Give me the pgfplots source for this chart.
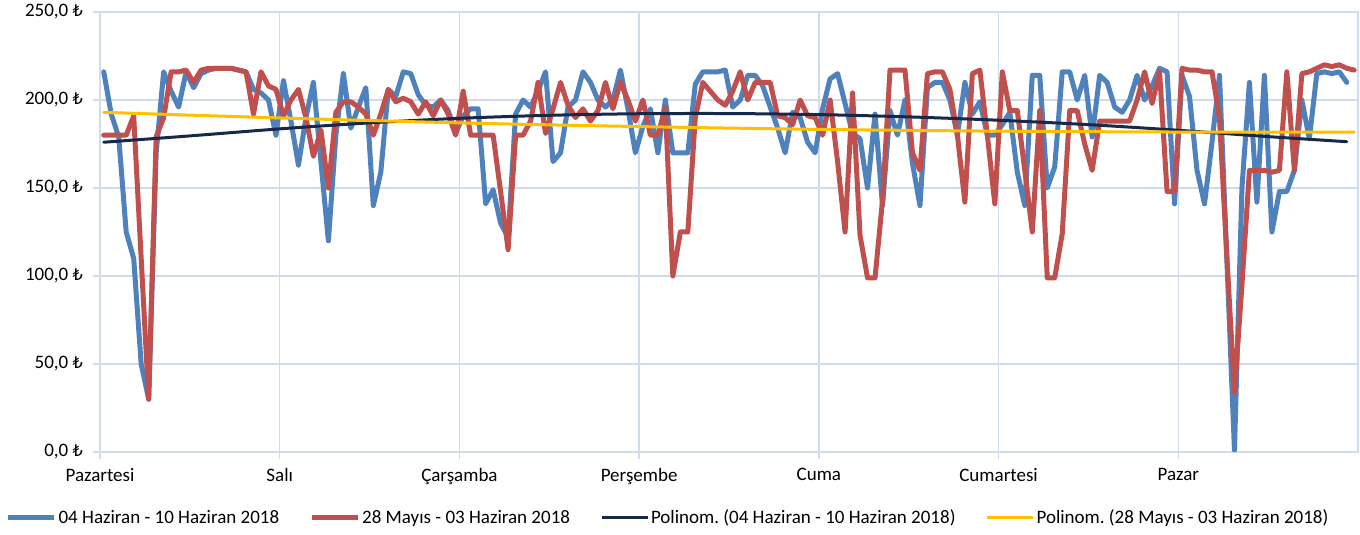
\documentclass[border=0pt]{standalone}
\usepackage{fontspec}
\setmainfont{Carlito}
\newfontfamily\tlfont{DejaVu Sans}[Scale=0.85]
\usepackage{pgfplots}
\usepackage{pgfplotstable}
\pgfplotsset{compat=1.18}

\definecolor{sBlue}{HTML}{4F81BD}
\definecolor{sRed}{HTML}{C0504D}
\definecolor{sNavy}{HTML}{16294A}
\definecolor{sYellow}{HTML}{FFC000}
\definecolor{gridc}{HTML}{D0DCEE}
\newcommand{\TL}{{\tlfont ₺}}

% hourly values, index 0 = Monday 00:00
\pgfplotstableread{
i v
0 216
1 192
2 179
3 125
4 110
5 50
6 30
7 170
8 216
9 205
10 196
11 216
12 207
13 215
14 217
15 218
16 218
17 218
18 217
19 216
20 206
21 204
22 200
23 180
24 211
25 188
26 163
27 190
28 210
29 165
30 120
31 180
32 215
33 184
34 196
35 207
36 140
37 159
38 206
39 202
40 216
41 215
42 203
43 197
44 196
45 200
46 194
47 181
48 191
49 195
50 195
51 141
52 149
53 130
54 122
55 192
56 200
57 196
58 205
59 216
60 165
61 170
62 196
63 200
64 216
65 210
66 200
67 196
68 200
69 217
70 195
71 170
72 185
73 195
74 170
75 200
76 170
77 170
78 170
79 209
80 216
81 216
82 216
83 217
84 196
85 200
86 214
87 214
88 208
89 196
90 184
91 170
92 193
93 190
94 176
95 170
96 195
97 212
98 215
99 198
100 181
101 178
102 150
103 192
104 140
105 194
106 180
107 200
108 164
109 140
110 207
111 210
112 210
113 200
114 180
115 210
116 192
117 199
118 180
119 180
120 186
121 193
122 159
123 140
124 214
125 214
126 150
127 162
128 216
129 216
130 200
131 214
132 179
133 214
134 210
135 196
136 193
137 200
138 214
139 200
140 208
141 218
142 216
143 141
144 214
145 202
146 160
147 141
148 176
149 214
150 108
151 1
152 150
153 210
154 142
155 214
156 125
157 148
158 148
159 160
160 200
161 178
162 215
163 216
164 215
165 216
166 210
}\thisweek

\pgfplotstableread{
i v
0 180
1 180
2 180
3 180
4 191
5 110
6 30
7 179
8 190
9 216
10 216
11 217
12 210
13 217
14 218
15 218
16 218
17 218
18 217
19 216
20 192
21 216
22 208
23 206
24 191
25 200
26 206
27 190
28 168
29 183
30 150
31 193
32 199
33 199
34 196
35 192
36 180
37 192
38 206
39 199
40 201
41 199
42 192
43 199
44 191
45 200
46 192
47 180
48 205
49 180
50 180
51 180
52 180
53 148
54 115
55 180
56 180
57 188
58 210
59 181
60 195
61 210
62 197
63 190
64 195
65 188
66 194
67 210
68 195
69 210
70 200
71 188
72 200
73 180
74 180
75 196
76 100
77 125
78 125
79 190
80 210
81 205
82 200
83 197
84 205
85 216
86 200
87 210
88 210
89 210
90 191
91 190
92 186
93 200
94 191
95 190
96 180
97 200
98 165
99 125
100 204
101 123
102 99
103 99
104 143
105 217
106 217
107 217
108 170
109 160
110 215
111 216
112 216
113 206
114 180
115 142
116 215
117 217
118 180
119 141
120 216
121 194
122 194
123 160
124 125
125 194
126 99
127 99
128 124
129 194
130 194
131 175
132 160
133 188
134 188
135 188
136 188
137 188
138 200
139 216
140 198
141 216
142 148
143 148
144 218
145 217
146 217
147 216
148 216
149 190
150 110
151 34
152 95
153 160
154 160
155 160
156 159
157 160
158 216
159 160
160 215
161 216
162 218
163 220
164 219
165 220
166 218
167 217
}\lastweek

\begin{document}
\frenchspacing
\fontsize{9.5pt}{11.4pt}\selectfont
\begin{tikzpicture}
\begin{axis}[
  width=629pt, height=220pt, scale only axis,
  xmin=0, xmax=168, ymin=0, ymax=250,
  xtick={0,24,...,144},
  xticklabels={Pazartesi,Salı,Çarşamba,Perşembe,Cuma,Cumartesi,Pazar},
  ytick={0,50,...,250},
  yticklabels={{0,0 \TL},{50,0 \TL},{100,0 \TL},{150,0 \TL},{200,0 \TL},{250,0 \TL}},
  grid=major, grid style={gridc, line width=0.75pt},
  axis line style={gridc, line width=0.75pt},
  tick style={gridc, line width=0.75pt},
  tick align=outside, xtick pos=bottom, ytick pos=left,
  major tick length=3.2pt,
  xticklabel style={yshift=-1.5pt},
  yticklabel style={xshift=-2pt},
  legend style={at={(axis description cs:0.4515,-0.15)}, anchor=center,
    draw=none, fill=none, legend columns=4,
    /tikz/every even column/.append style={column sep=14pt},
    nodes={inner sep=1pt}},
  legend image code/.code={\draw[#1] (0pt,0pt) -- (23pt,0pt);},
  line join=round, line cap=round,
]
\addplot[sBlue, line width=2.5pt] table[x expr=\thisrow{i}+0.5, y=v] {\thisweek};
\addlegendentry{04 Haziran - 10 Haziran 2018}
\addplot[sRed, line width=2.5pt] table[x expr=\thisrow{i}+0.5, y=v] {\lastweek};
\addlegendentry{28 Mayıs - 03 Haziran 2018}
% trend lines as drawn by the spreadsheet, read off at a few points
\addplot[sNavy, line width=1.5pt, smooth] coordinates {(0.5,176) (12,179.6) (24,183.6) (36,187) (48,189.6) (60,191.3) (72,192.2) (84,192.3) (96,191.7) (108,190.4) (120,188.5) (132,186) (144,182.8) (156,179.2) (166.5,176.3)};
\addlegendentry{Polinom. (04 Haziran - 10 Haziran 2018)}
\addplot[sYellow, line width=1.5pt, smooth] coordinates {(0.5,193) (24,189.8) (48,187) (72,184.9) (96,183.3) (120,182.3) (144,181.8) (167.5,181.7)};
\addlegendentry{Polinom. (28 Mayıs - 03 Haziran 2018)}
\coordinate (ll) at (rel axis cs:0,0);
\coordinate (ur) at (rel axis cs:1,1);
\end{axis}
% fix the page to the chart area of the original: 50pt left of the plot,
% 41.5pt below it, 6pt above and 1pt to the right
\pgfresetboundingbox
\path (ll) ++(-50pt,-41.5pt) coordinate (bbA);
\path (ur) ++(1pt,6pt) coordinate (bbB);
\path[use as bounding box] (bbA) rectangle (bbB);
\end{tikzpicture}
\end{document}
